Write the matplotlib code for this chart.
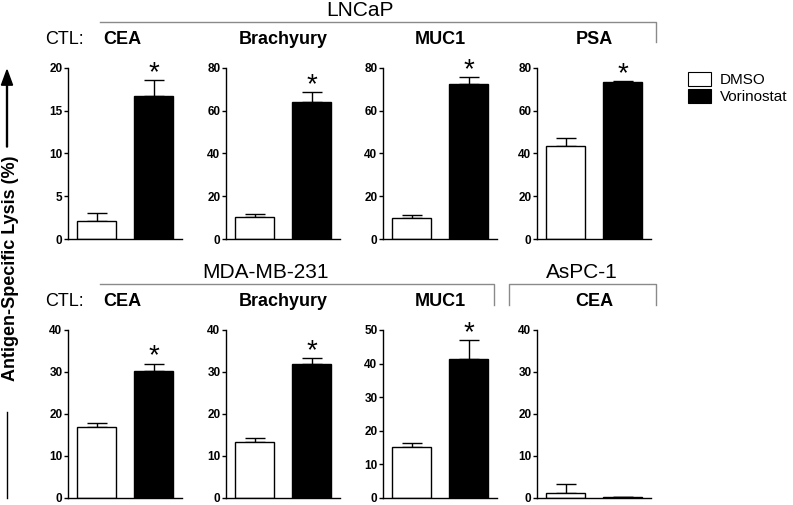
import matplotlib
matplotlib.use("Agg")
import matplotlib.pyplot as plt
from matplotlib.patches import Patch, FancyArrow
from matplotlib.lines import Line2D
import numpy as np

plt.rcParams['font.family'] = ['Liberation Sans', 'DejaVu Sans']

W, H = 793, 505

# data
panels = ['CEA', 'Brachyury', 'MUC1', 'PSA', 'CEA', 'Brachyury', 'MUC1', 'CEA']
dmso = [2.1, 10.3, 10.0, 43.7, 17.0, 13.3, 15.2, 1.2]
dmso_err = [0.9, 1.2, 1.2, 3.7, 0.8, 0.9, 1.3, 2.2]
vorinostat = [16.7, 63.9, 72.4, 73.6, 30.2, 32.0, 41.3, 0.25]
vorinostat_err = [1.9, 4.9, 3.5, 0.2, 1.8, 1.3, 5.7, 0.1]
significant = [True, True, True, True, True, True, True, False]
ymax = [20, 80, 80, 80, 40, 40, 50, 40]
ystep = [5, 20, 20, 20, 10, 10, 10, 10]
labels = ['DMSO', 'Vorinostat']


def fx(x):
    return x / W


def fy(y):
    return 1 - y / H


fig = plt.figure(figsize=(W / 100, H / 100), dpi=100)

lefts = [68, 226, 383, 537]
rows = [(68, 239), (330, 498)]
aw = 114

for i in range(8):
    r, c = divmod(i, 4)
    top, zero = rows[r]
    ax = fig.add_axes([fx(lefts[c]), fy(zero), aw / W, (zero - top) / H])
    vals = [dmso[i], vorinostat[i]]
    errs = [dmso_err[i], vorinostat_err[i]]
    ax.errorbar([0, 1], vals, yerr=[[0, 0], errs], fmt='none', ecolor='black',
                elinewidth=1, capsize=7, capthick=1, zorder=1)
    ax.bar([0, 1], vals, width=0.67, color=['white', 'black'],
           edgecolor='black', linewidth=1, zorder=2)
    ax.set_xlim(-0.5, 1.5)
    ax.set_ylim(0, ymax[i])
    ax.set_yticks(np.arange(0, ymax[i] + 1, ystep[i]))
    ax.set_xticks([])
    for s in ['top', 'right']:
        ax.spines[s].set_visible(False)
    for s in ['left', 'bottom']:
        ax.spines[s].set_linewidth(1)
    ax.tick_params(axis='y', length=3, width=1, pad=1, labelsize=8.5)
    for t in ax.get_yticklabels():
        t.set_fontweight('bold')
    if significant[i]:
        ax.annotate('*', xy=(1, vals[1] + errs[1]), xytext=(0, 0),
                    textcoords='offset points', ha='center', va='baseline',
                    fontsize=20, annotation_clip=False)
    # panel title
    ty = 40 if r == 0 else 302
    fig.text(fx(lefts[c] + aw / 2 + (-3 if c == 0 else 0)), fy(ty), panels[i],
             ha='center', va='center', fontsize=13, fontweight='bold')

# CTL labels
fig.text(fx(45), fy(40), 'CTL:', ha='left', va='center', fontsize=13)
fig.text(fx(45), fy(302), 'CTL:', ha='left', va='center', fontsize=13)

# group brackets
gray = '#8a8a8a'


def bracket(x0, x1, y, ydrop, left_drop):
    xs = [x0, x1, x1]
    ys = [y, y, ydrop]
    if left_drop:
        xs = [x0] + xs
        ys = [ydrop] + ys
    fig.add_artist(Line2D([fx(v) for v in xs], [fy(v) for v in ys],
                          color=gray, lw=1))


bracket(100, 656, 22, 42, False)
bracket(100, 494, 284, 305, False)
bracket(509, 656, 284, 305, True)
fig.text(fx(360), fy(11), 'LNCaP', ha='center', va='center', fontsize=15)
fig.text(fx(266), fy(272), 'MDA-MB-231', ha='center', va='center', fontsize=15)
fig.text(fx(582), fy(272), 'AsPC-1', ha='center', va='center', fontsize=15)

# y label with arrow
fig.text(fx(11), fy(268), 'Antigen-Specific Lysis (%)', rotation=90,
         ha='center', va='center', fontsize=13, fontweight='bold')
fig.add_artist(Line2D([fx(7), fx(7)], [fy(412), fy(498)], color='black', lw=1))
fig.patches.append(FancyArrow(
    fx(7), fy(147), 0, (147 - 70) / H, width=0.0012, head_width=0.014,
    head_length=0.03, length_includes_head=True, color='black',
    transform=fig.transFigure, figure=fig))

# legend
handles = [Patch(facecolor='white', edgecolor='black', lw=0.8),
           Patch(facecolor='black', edgecolor='black', lw=0.8)]
fig.legend(handles, labels, loc='upper left', bbox_to_anchor=(fx(688), fy(72)),
           frameon=False, fontsize=11, handlelength=1.5, handleheight=1.0,
           handletextpad=0.6, labelspacing=0.15, borderaxespad=0, borderpad=0)

fig.savefig('out.png', dpi=100)
